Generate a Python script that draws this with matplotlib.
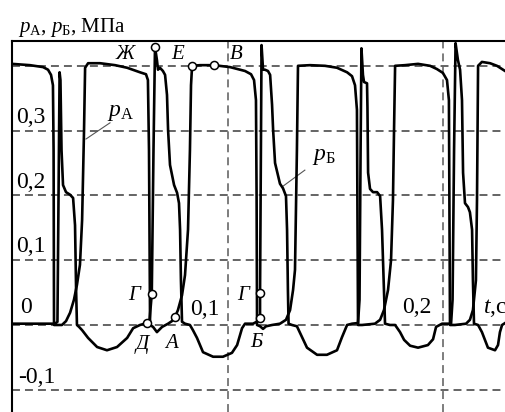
import numpy as np
import matplotlib
matplotlib.use("Agg")
import matplotlib.pyplot as plt

plt.rcParams['font.family'] = ['Liberation Serif', 'DejaVu Serif']
plt.rcParams['mathtext.fontset'] = 'custom'
plt.rcParams['mathtext.rm'] = 'Liberation Serif'
plt.rcParams['mathtext.it'] = 'Liberation Serif:italic'

# p_A trace, time in ms, pressure in MPa
ta_ms = [-0.9, 7.5, 13.6, 15.9, 17.3, 18.2, 18.5, 18.7,
         20.6, 22.4, 24.3, 26.2, 28.0, 29.4, 30.8, 31.8, 32.7, 33.2,
         34.6, 40.2, 47.2, 52.8, 58.8, 61.6, 62.5, 63.0, 63.5,
         64.9, 66.7, 69.1, 71.9, 73.7, 75.1, 76.5, 78.4, 79.8, 81.2, 82.1, 82.6, 83.1,
         86.8, 93.3, 100.8, 107.8, 110.6, 112.0, 112.9, 113.2, 113.4,
         114.8, 116.2, 117.6, 120.4, 124.1, 126.9, 128.8, 130.2, 131.1, 132.0, 132.5,
         138.1, 145.1, 150.7, 155.4, 157.7, 159.1, 160.0, 160.5,
         162.4, 168.4, 170.8, 172.6, 174.5, 175.9, 176.8, 177.3, 177.8,
         182.4, 188.5, 194.1, 197.3, 200.1, 202.0, 202.9, 203.4,
         205.7, 210.9, 212.7, 214.1, 215.5, 216.0, 216.5,
         218.3, 222.1, 225.3, 229.1]
pa = [0.403, 0.401, 0.398, 0.394, 0.386, 0.370, 0.270, 0.000,
      0.000, 0.000, 0.006, 0.019, 0.039, 0.062, 0.093, 0.162, 0.301, 0.397,
      0.404, 0.404, 0.401, 0.397, 0.390, 0.387, 0.378, 0.270, 0.000,
      -0.003, -0.011, -0.003, 0.002, 0.006, 0.012, 0.023, 0.046, 0.077, 0.147, 0.270, 0.370, 0.400,
      0.401, 0.401, 0.398, 0.392, 0.387, 0.378, 0.347, 0.193, 0.000,
      -0.002, -0.006, -0.002, 0.000, 0.002, 0.008, 0.023, 0.054, 0.085, 0.270, 0.400,
      0.401, 0.400, 0.397, 0.390, 0.384, 0.370, 0.332, 0.000,
      0.000, 0.002, 0.008, 0.023, 0.054, 0.100, 0.193, 0.301, 0.400,
      0.401, 0.403, 0.400, 0.395, 0.389, 0.378, 0.347, 0.000,
      0.000, 0.002, 0.008, 0.023, 0.069, 0.193, 0.400,
      0.406, 0.404, 0.400, 0.392]

# p_B trace
tb_ms = [-0.9, 12.2, 19.2, 20.3, 20.8, 21.3, 21.7, 22.2, 22.9, 24.3, 26.2, 27.6, 28.5, 29.0, 29.4, 30.4,
         31.8, 34.6, 38.8, 43.4, 48.1, 52.8, 55.6, 58.8, 62.1,
         63.2, 64.3, 65.1, 65.8, 66.7, 67.2, 68.1, 69.5, 70.5, 71.4, 71.9, 72.8, 74.7, 76.1, 77.0, 77.5, 77.9, 78.4,
         79.8, 82.1,
         83.5, 85.4, 88.2, 92.9, 97.5, 101.7, 104.1, 106.4, 107.8, 111.5, 113.9, 114.8,
         114.8, 115.2, 115.5, 116.2, 117.1, 118.5, 119.5, 120.4, 120.9, 121.8, 124.1, 125.5, 126.9, 127.4, 127.8, 128.1,
         129.7, 132.0,
         134.4, 136.7, 141.4, 146.0, 150.7, 153.0, 155.4, 157.7, 160.5,
         161.2, 161.7, 162.1, 162.8, 163.3, 164.7, 164.9, 165.2, 166.1, 167.5, 169.4, 170.8, 171.7, 172.6, 173.1,
         175.4, 177.8,
         180.1, 182.0, 184.8, 188.5, 193.1, 195.5, 196.9, 199.7, 203.9,
         204.6, 205.3, 206.0, 207.1, 208.1, 209.0, 209.5, 210.4, 211.8, 212.7, 213.7, 214.1, 214.6,
         216.5, 218.3, 219.7, 221.1, 224.4, 225.8, 226.7, 227.7, 229.1]
pb = [0.002, 0.002, 0.002, 0.005, 0.193, 0.390, 0.378, 0.270, 0.216, 0.205, 0.201, 0.196, 0.154, 0.054, 0.000, -0.003,
      -0.008, -0.020, -0.034, -0.039, -0.034, -0.020, -0.005, 0.000, 0.003,
      0.005, 0.048, 0.270, 0.429, 0.409, 0.394, 0.397, 0.392, 0.386, 0.355, 0.301, 0.247, 0.216, 0.204, 0.188, 0.147, 0.069, 0.005,
      0.002, 0.000,
      -0.008, -0.020, -0.042, -0.049, -0.049, -0.043, -0.031, -0.005, 0.002, 0.002, 0.006, 0.011,
      0.049, 0.270, 0.432, 0.394, 0.394, 0.392, 0.386, 0.340, 0.301, 0.250, 0.218, 0.211, 0.199, 0.147, 0.054, 0.002,
      0.000, -0.002,
      -0.019, -0.035, -0.046, -0.046, -0.039, -0.019, 0.000, 0.002, 0.003,
      0.039, 0.270, 0.427, 0.386, 0.375, 0.373, 0.336, 0.235, 0.210, 0.205, 0.205, 0.199, 0.147, 0.054, 0.002,
      0.000, 0.000,
      -0.011, -0.023, -0.032, -0.035, -0.031, -0.022, -0.003, 0.002, 0.002,
      0.039, 0.270, 0.435, 0.409, 0.394, 0.347, 0.235, 0.188, 0.182, 0.174, 0.147, 0.069, 0.002,
      0.000, -0.011, -0.023, -0.035, -0.039, -0.031, -0.011, 0.000, 0.003]

# marked points of the cycle
mark_ms = [65.8, 83.1, 93.3, 64.3, 62.1, 75.1, 114.8, 114.8]
mark_p = [0.429, 0.400, 0.401, 0.048, 0.003, 0.012, 0.049, 0.011]
mark_names = ['Ж', 'Е', 'В', 'Г', 'Д', 'А', 'Г', 'Б']
name_ms = [52.0, 76.3, 103.6, 56.2, 60.0, 73.5, 107.1, 113.2]
name_p = [0.417, 0.417, 0.417, 0.046, -0.030, -0.029, 0.046, -0.027]

grid_p = [0.4, 0.3, 0.2, 0.1, 0.0, -0.1]
grid_t = [0.1, 0.2]

ta = np.array(ta_ms) / 1000
tb = np.array(tb_ms) / 1000

fig = plt.figure(figsize=(5.05, 4.12), dpi=100)
ax = fig.add_axes([12 / 505, 0, 1 - 12 / 505, 371 / 412])
ax.set_xlim(-0.0009, 0.22906)
ax.set_ylim(-0.1343, 0.4383)

for g in grid_p:
    ax.axhline(g, color='#3a3a3a', lw=1.1, ls=(0, (5.2, 3.3)), zorder=1)
for g in grid_t:
    ax.axvline(g, color='#5a5a5a', lw=1.1, ls=(0, (5.2, 3.3)), zorder=1)

ax.plot(ta, pa, color='black', lw=1.9, solid_joinstyle='round', zorder=3)
ax.plot(tb, pb, color='black', lw=1.9, solid_joinstyle='round', zorder=3)
ax.plot(np.array(mark_ms) / 1000, mark_p, 'o', ms=5.8, mfc='white', mec='black', mew=1.1, zorder=4)
for n, x, y in zip(mark_names, name_ms, name_p):
    ax.text(x / 1000, y, n, fontsize=15, style='italic', ha='center', va='center', zorder=5)

# value labels inside the frame
for s, x, y in [('0,3', 1.0, 0.312), ('0,2', 1.0, 0.211), ('0,1', 1.0, 0.113),
                ('0', 2.8, 0.019), ('-0,1', 1.9, -0.090),
                ('0,1', 82.1, 0.015), ('0,2', 181.0, 0.019)]:
    ax.text(x / 1000, y, s, fontsize=17, ha='left', va='baseline')
ax.text(218.8 / 1000, 0.019, '$t$,с', fontsize=17, ha='left', va='baseline')

# curve names with leaders
ax.text(43.4 / 1000, 0.323, r'$p_{\mathrm{А}}$', fontsize=17, ha='left', va='baseline')
ax.plot([0.0448, 0.0336], [0.312, 0.287], color='#555555', lw=0.8)
ax.text(139.0 / 1000, 0.255, r'$p_{\mathrm{Б}}$', fontsize=17, ha='left', va='baseline')
ax.plot([0.1357, 0.1250], [0.239, 0.213], color='#555555', lw=0.8)

for side in ['right', 'bottom']:
    ax.spines[side].set_visible(False)
for side in ['left', 'top']:
    ax.spines[side].set_linewidth(1.5)
ax.set_xticks([])
ax.set_yticks([])

fig.text(18 / 505, 1 - 32 / 412, r'$p_{\mathrm{А}}$, $p_{\mathrm{Б}}$, МПа', fontsize=15, ha='left', va='baseline')

fig.savefig('out.png', dpi=100)
